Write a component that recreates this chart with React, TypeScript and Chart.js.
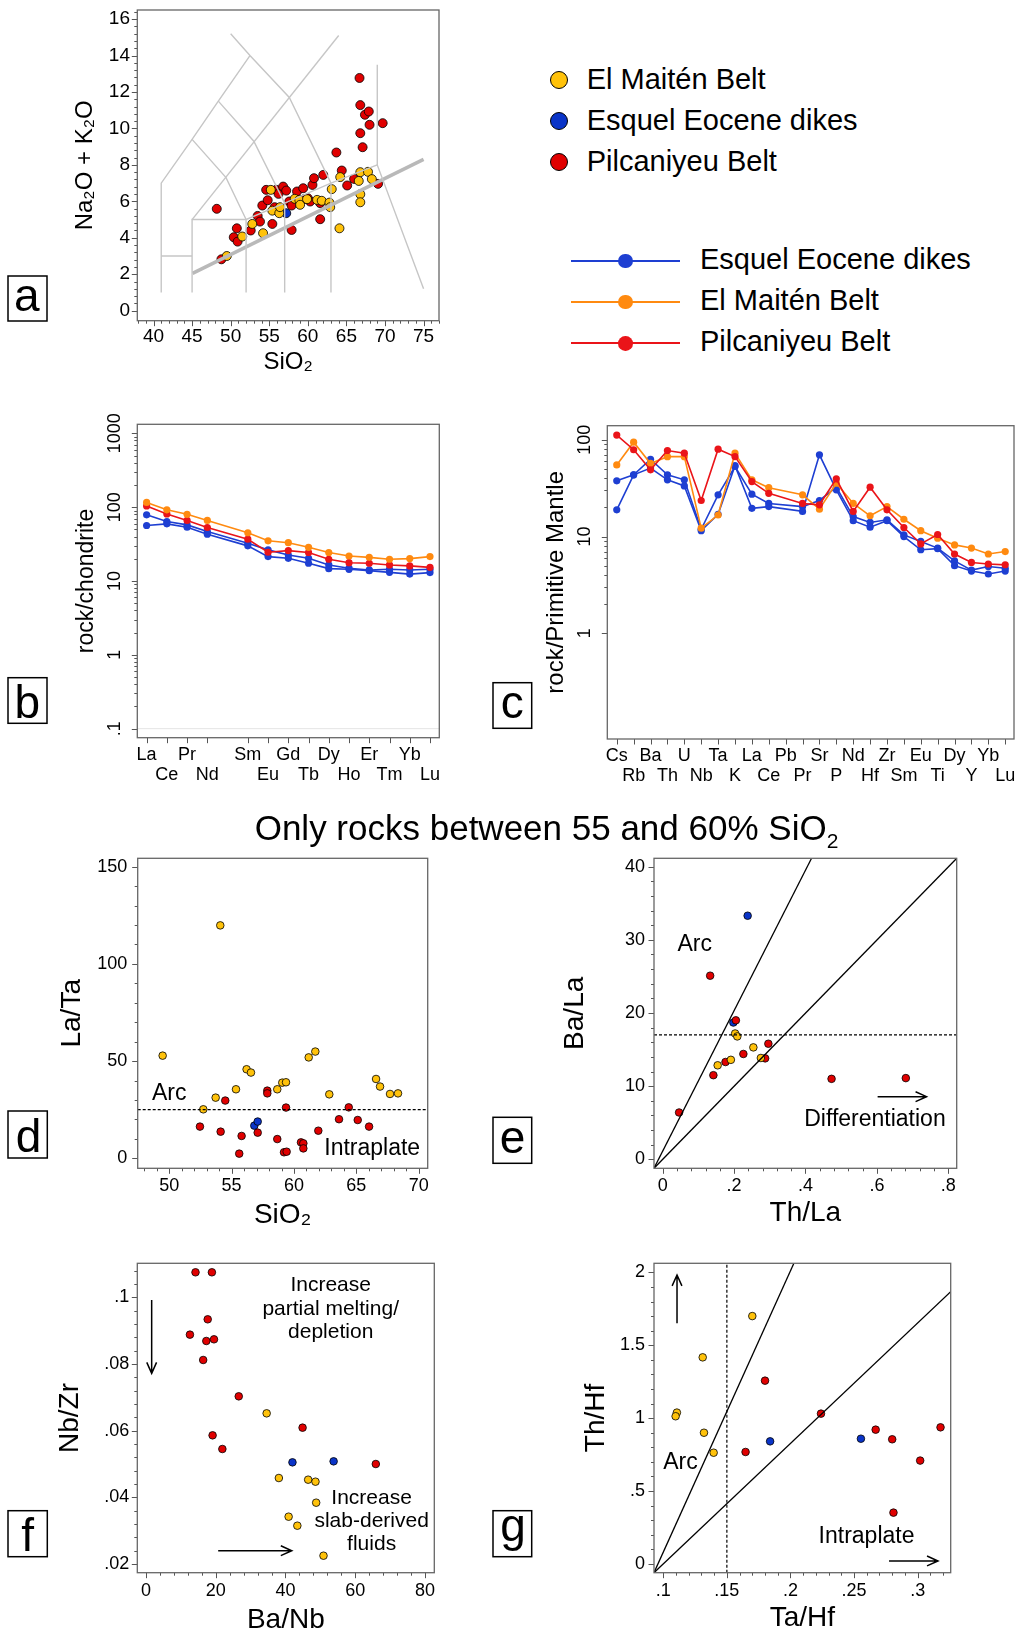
import React, { useEffect, useRef } from 'react';
import { Chart, registerables } from 'chart.js';

Chart.register(...registerables);

const FONT = '"Liberation Sans", Arial, Helvetica, sans-serif';

const C_YEL = '#ffc20a';
const C_RED = '#e00000';
const C_BLUE = '#0a34c8';
const L_BLUE = '#1e3fd2';
const L_ORANGE = '#ff8a10';
const L_RED = '#ea1419';
const TAS_GREY = '#c6c6c6';

// ---------------- Panel a : TAS ----------------
const aRedSi = [48.2, 48.8, 50.4, 50.8, 50.9, 52.6, 53.5, 53.8, 54.1, 54.6, 54.8, 55.4, 55.7, 55.9, 56.2, 56.8, 57.2, 57.6, 57.9, 57.9, 58.6, 59.4, 59.5, 60.0, 60.3, 60.6, 60.8, 61.6, 61.6, 62.0, 63.7, 64.4, 65.1, 66.0, 66.7, 66.8, 66.8, 67.1, 67.4, 67.9, 68.0, 69.1, 69.7];
const aRedAlk = [5.59, 2.82, 4.03, 4.52, 3.79, 4.40, 5.20, 4.89, 5.77, 6.63, 6.06, 4.76, 5.68, 6.63, 6.41, 6.81, 6.59, 5.99, 4.43, 5.77, 6.54, 6.72, 6.12, 6.17, 5.99, 6.90, 7.27, 5.90, 5.02, 7.45, 8.68, 7.69, 6.87, 7.23, 12.77, 11.28, 9.74, 8.97, 10.75, 10.93, 10.20, 6.96, 10.29];
const aYelSi = [49.5, 51.5, 52.8, 54.2, 55.2, 55.4, 56.3, 56.4, 58.3, 58.9, 59.0, 59.9, 61.2, 61.8, 62.8, 62.9, 63.1, 64.1, 64.2, 66.6, 66.8, 66.8, 66.8, 67.8, 68.3];
const aYelAlk = [3.00, 4.07, 4.76, 4.25, 6.63, 5.49, 5.35, 5.68, 6.14, 6.08, 5.81, 6.12, 6.08, 6.03, 5.93, 5.68, 6.67, 4.52, 7.33, 7.12, 7.60, 6.39, 5.95, 7.62, 7.22];
const aBlueSi = [57.2];
const aBlueAlk = [5.35];
const tasLines = [
  [[41, 1], [41, 7], [45, 9.4], [48.4, 11.5], [52.5, 14]],
  [[41, 3], [45, 3]],
  [[45, 1], [45, 5], [52, 5]],
  [[45, 5], [64, 15.1]],
  [[52, 1], [52, 5], [57, 5.9], [63, 7], [69, 8]],
  [[57, 1], [57, 5.9]],
  [[63, 1], [63, 7]],
  [[45, 9.4], [49.4, 7.3], [52, 5]],
  [[48.4, 11.5], [53, 9.3], [57, 5.9]],
  [[50, 15.2], [52.5, 14], [57.6, 11.7], [63, 7]],
  [[69, 13.5], [69, 8], [75, 1.2]],
];
const alkalineDivide = [[45.06, 2.05], [75, 8.3]];
const aXTicks = [40, 45, 50, 55, 60, 65, 70, 75];
const aYTicks = [0, 2, 4, 6, 8, 10, 12, 14, 16];

// ---------------- Panel b : REE ----------------
const reeLabels = ['La', 'Ce', 'Pr', 'Nd', 'Sm', 'Eu', 'Gd', 'Tb', 'Dy', 'Ho', 'Er', 'Tm', 'Yb', 'Lu'];
const reePos = [0, 1, 2, 3, 5, 6, 7, 8, 9, 10, 11, 12, 13, 14];
const reeOrange = [116, 92, 80, 66, 45, 35, 33, 28.6, 24.3, 21.8, 20.9, 19.7, 20.1, 21.4];
const reeRed = [104, 81, 66, 53, 36.8, 24.5, 25.8, 24.3, 19.7, 17.7, 17.4, 16.5, 16.0, 15.3];
const reeBlue1 = [78.7, 63.8, 57.5, 46.7, 32.5, 26.4, 22.5, 20.3, 16.5, 14.9, 14.1, 14.4, 14.1, 14.4];
const reeBlue2 = [56.4, 59.4, 53.5, 43.0, 29.9, 21.4, 20.3, 17.4, 14.7, 14.4, 13.8, 13.1, 12.4, 13.0];
const reeYTicks = [1000, 100, 10, 1, 0.1];
const reeYLabels = ['1000', '100', '10', '1', '.1'];

// ---------------- Panel c : spider ----------------
const spLabels = ['Cs', 'Rb', 'Ba', 'Th', 'U', 'Nb', 'Ta', 'K', 'La', 'Ce', 'Pb', 'Pr', 'Sr', 'P', 'Nd', 'Hf', 'Zr', 'Sm', 'Eu', 'Ti', 'Dy', 'Y', 'Yb', 'Lu'];
const spRed = [112, 79, 49, 77.6, 72.8, 23.6, 80, 67.2, 37, 28, null, 22, 21.3, 39.5, 18.2, 32.4, 18.9, 12.4, 8.4, 10.5, 6.6, 5.4, 5.2, 5.1];
const spOrange = [55, 94.6, 57, 67, 67, 12.2, 16.7, 72.8, 38.6, 32, null, 27, 19.2, 35.6, 22, 16.4, 20.4, 15.1, 11.5, 9.6, 8.2, 7.6, 6.6, 7.0];
const spBlue1 = [37.7, 43.5, 63, 43.5, 38.6, 11.9, 27, 53, 27.4, 22, null, 20.4, 23.6, 32.4, 16.1, 14, 14.9, 10.4, 8.9, 7.6, 5.6, 4.5, 4.9, 4.7];
const spBlue2 = [18.9, 43.5, 51, 38.6, 33.4, 11.5, 17, 54, 19.6, 20.4, null, 18.2, 70, 30.4, 14.6, 12.5, 14.6, 10, 7.3, 7.5, 5, 4.4, 4.1, 4.4];
const spYTicks = [100, 10, 1];
const spYLabels = ['100', '10', '1'];

// ---------------- Panel d : La/Ta vs SiO2 ----------------
const dYelSi = [49.47, 54.09, 52.73, 53.72, 55.35, 56.2, 56.55, 58.66, 59.06, 59.36, 61.18, 61.71, 62.83, 66.58, 66.9, 67.7, 68.34];
const dYelLaTa = [52.8, 119.8, 25.2, 31.2, 35.5, 45.8, 44.1, 35.5, 38.9, 39.1, 51.9, 54.9, 32.9, 40.8, 36.9, 33.1, 33.4];
const dRedSi = [52.46, 54.12, 54.49, 55.61, 55.8, 57.09, 57.86, 57.86, 58.66, 59.36, 59.2, 59.41, 60.56, 60.75, 60.75, 61.95, 63.61, 64.39, 65.11, 66.02];
const dRedLaTa = [16.3, 13.7, 29.7, 2.4, 11.5, 13.2, 34.8, 33.4, 9.9, 26.1, 3.1, 3.4, 8.2, 7.7, 5.1, 14.2, 20.1, 26.2, 19.7, 16.3];
const dBlueSi = [56.82, 57.09];
const dBlueLaTa = [16.8, 18.9];
const dArcLimit = 25;
const dXTicks = [50, 55, 60, 65, 70];
const dYTicks = [0, 50, 100, 150];

// ---------------- Panel e : Ba/La vs Th/La ----------------
const eRedTh = [0.046, 0.133, 0.142, 0.176, 0.205, 0.226, 0.287, 0.296, 0.473, 0.681];
const eRedBa = [6.4, 25.1, 11.5, 13.3, 19.0, 14.4, 13.8, 15.8, 11.0, 11.1];
const eYelTh = [0.154, 0.191, 0.203, 0.209, 0.254, 0.275];
const eYelBa = [12.85, 13.6, 17.2, 16.8, 15.3, 13.85];
const eBlueTh = [0.238, 0.198];
const eBlueBa = [33.3, 18.7];
const eLimit = 17;
const eLine1 = [[-0.0243, -1.23], [0.417, 41.15]];
const eLine2 = [[-0.0243, -1.23], [0.8235, 41.15]];
const eXTicks = [0, 0.2, 0.4, 0.6, 0.8];
const eXLabels = ['0', '.2', '.4', '.6', '.8'];
const eYTicks = [0, 10, 20, 30, 40];

// ---------------- Panel f : Nb/Zr vs Ba/Nb ----------------
const fRedBaNb = [14.2, 18.9, 17.7, 12.6, 17.3, 19.5, 16.4, 26.6, 19.1, 21.9, 44.9, 65.9];
const fRedNbZr = [0.1075, 0.1075, 0.0934, 0.0888, 0.0869, 0.0874, 0.0812, 0.0703, 0.0586, 0.0545, 0.0609, 0.050];
const fYelBaNb = [34.6, 38.1, 46.5, 48.6, 48.8, 40.9, 43.4, 50.9];
const fYelNbZr = [0.0652, 0.0458, 0.0453, 0.0447, 0.0384, 0.0342, 0.0315, 0.0225];
const fBlueBaNb = [42.0, 53.8];
const fBlueNbZr = [0.0505, 0.0508];
const fXTicks = [0, 20, 40, 60, 80];
const fYTicks = [0.02, 0.04, 0.06, 0.08, 0.1];
const fYLabels = ['.02', '.04', '.06', '.08', '.1'];

// ---------------- Panel g : Th/Hf vs Ta/Hf ----------------
const gYelTaHf = [0.170, 0.131, 0.1107, 0.1097, 0.132, 0.1396];
const gYelThHf = [1.70, 1.417, 1.038, 1.013, 0.90, 0.763];
const gRedTaHf = [0.180, 0.224, 0.1647, 0.267, 0.280, 0.318, 0.302, 0.281];
const gRedThHf = [1.257, 1.031, 0.768, 0.921, 0.855, 0.937, 0.709, 0.352];
const gBlueTaHf = [0.184, 0.2554];
const gBlueThHf = [0.841, 0.859];
const gLimit = 0.15;
const gLine1 = [[0.0927, -0.06], [0.2027, 2.062]];
const gLine2 = [[0.0927, -0.06], [0.326, 1.867]];
const gXTicks = [0.1, 0.15, 0.2, 0.25, 0.3];
const gXLabels = ['.1', '.15', '.2', '.25', '.3'];
const gYTicks = [0, 0.5, 1, 1.5, 2];
const gYLabels = ['0', '.5', '1', '1.5', '2'];

// ---------------- legends ----------------
const dotLegend = [
  { label: 'El Maitén Belt', color: C_YEL },
  { label: 'Esquel Eocene dikes', color: C_BLUE },
  { label: 'Pilcaniyeu Belt', color: C_RED },
];
const lineLegend = [
  { label: 'Esquel Eocene dikes', color: L_BLUE },
  { label: 'El Maitén Belt', color: L_ORANGE },
  { label: 'Pilcaniyeu Belt', color: L_RED },
];

// ---------------- helpers ----------------
function range(a: number, b: number, s: number) {
  const out: number[] = [];
  for (let v = a; v <= b + 1e-9; v += s) out.push(Math.round(v * 1e6) / 1e6);
  return out;
}
function logMinors(lo: number, hi: number) {
  const out: number[] = [];
  for (let e = lo; e < hi; e++) for (let k = 2; k <= 9; k++) out.push(k * Math.pow(10, e));
  return out;
}
const pairs = (xs: number[], ys: number[]) => xs.map((x, i) => ({ x, y: ys[i] }));
const poly = (p: number[][]) => p.map(([x, y]) => ({ x, y }));

function pts(xs: number[], ys: number[], color: string, r: number) {
  return {
    data: pairs(xs, ys), backgroundColor: color, borderColor: '#000', borderWidth: 0.8,
    pointRadius: r, pointHoverRadius: r, showLine: false,
  };
}
function seg(p: number[][], color: string, w: number, dash: number[] = []) {
  return {
    data: poly(p), showLine: true, borderColor: color, borderWidth: w, borderDash: dash,
    pointRadius: 0, pointHoverRadius: 0, fill: false, tension: 0,
  };
}
function profile(pos: number[], vals: (number | null)[], color: string) {
  const data = pos.map((x, i) => ({ x, y: vals[i] })).filter((d) => d.y !== null);
  return {
    data, showLine: true, borderColor: color, borderWidth: 1.6, backgroundColor: color,
    pointBackgroundColor: color, pointBorderWidth: 0, pointRadius: 3.6, pointHoverRadius: 3.6, tension: 0,
  };
}

type Cv = { x: number; y: number; w: number; h: number };
type Box = { l: number; t: number; r: number; b: number };
type AxisOpt = {
  type?: string; min: number; max: number; vals?: number[]; labels?: any[];
  font?: number; lh?: number; pad?: number; title?: string; tsize?: number; tpad?: number; show?: boolean;
};

function axis(o: AxisOpt, isX: boolean, size: number) {
  return {
    type: o.type || 'linear',
    min: o.min, max: o.max,
    afterBuildTicks: (s: any) => { if (o.vals) s.ticks = o.vals.map((v) => ({ value: v })); },
    afterFit: (s: any) => {
      if (isX) s.height = size; else s.width = size;
      s.paddingTop = 0; s.paddingBottom = 0; s.paddingLeft = 0; s.paddingRight = 0;
    },
    grid: { display: false, drawTicks: false },
    border: { display: false },
    ticks: {
      display: o.show !== false,
      autoSkip: false, maxRotation: 0, minRotation: 0,
      padding: o.pad ?? 6,
      color: '#000',
      font: { family: FONT, size: o.font ?? 18, lineHeight: o.lh ?? 1.2 },
      callback: (v: any, i: number) => (o.labels ? o.labels[i] : String(v)),
    },
    title: o.title
      ? {
          display: true, text: o.title, color: '#000',
          font: { family: FONT, size: o.tsize ?? 28, lineHeight: 1 },
          padding: isX ? { top: 0, bottom: o.tpad ?? 0 } : { top: o.tpad ?? 0, bottom: 0 },
        }
      : { display: false },
  };
}

type Decor = {
  xMajor: number[]; xMinor: number[]; yMajor: number[]; yMinor: number[];
  logLabels?: { vals: number[]; labels: string[]; cx: number; size: number };
  hline?: { y: number; color: string };
  texts?: { x: number; y: number; text: string; size: number }[];
  arrows?: { x1: number; y1: number; x2: number; y2: number }[];
  letter: { text: string; x: number; y: number; w: number; h: number };
};

function decor(cfg: Decor, cv: Cv) {
  return {
    id: 'decor',
    beforeDatasetsDraw(chart: any) {
      if (!cfg.hline) return;
      const { ctx, chartArea: a, scales } = chart;
      const py = scales.y.getPixelForValue(cfg.hline.y);
      ctx.save();
      ctx.strokeStyle = cfg.hline.color;
      ctx.lineWidth = 1;
      ctx.beginPath();
      ctx.moveTo(a.left, py);
      ctx.lineTo(a.right, py);
      ctx.stroke();
      ctx.restore();
    },
    afterDraw(chart: any) {
      const { ctx, chartArea: a, scales } = chart;
      const sx = scales.x, sy = scales.y;
      const inX = (v: number) => v >= sx.min - 1e-9 && v <= sx.max + 1e-9;
      const inY = (v: number) => v >= sy.min - 1e-12 && v <= sy.max + 1e-9;
      ctx.save();
      ctx.strokeStyle = '#555';
      ctx.lineWidth = 1;
      ctx.beginPath();
      const xt = (v: number, len: number) => {
        const p = Math.round(sx.getPixelForValue(v)) + 0.5;
        ctx.moveTo(p, a.bottom);
        ctx.lineTo(p, a.bottom + len);
      };
      const yt = (v: number, len: number) => {
        const p = Math.round(sy.getPixelForValue(v)) + 0.5;
        ctx.moveTo(a.left - len, p);
        ctx.lineTo(a.left, p);
      };
      cfg.xMinor.filter(inX).forEach((v) => xt(v, 3));
      cfg.xMajor.filter(inX).forEach((v) => xt(v, 5.5));
      cfg.yMinor.filter(inY).forEach((v) => yt(v, 3));
      cfg.yMajor.filter(inY).forEach((v) => yt(v, 5.5));
      ctx.stroke();

      ctx.strokeStyle = '#666';
      ctx.lineWidth = 1.3;
      ctx.strokeRect(a.left, a.top, a.right - a.left, a.bottom - a.top);

      ctx.fillStyle = '#000';
      if (cfg.logLabels) {
        const ll = cfg.logLabels;
        ctx.font = `${ll.size}px ${FONT}`;
        ctx.textAlign = 'center';
        ctx.textBaseline = 'middle';
        ll.vals.forEach((v, i) => {
          const py = sy.getPixelForValue(v);
          ctx.save();
          ctx.translate(ll.cx - cv.x, py);
          ctx.rotate(-Math.PI / 2);
          ctx.fillText(ll.labels[i], 0, 0);
          ctx.restore();
        });
      }

      ctx.textAlign = 'center';
      ctx.textBaseline = 'middle';
      (cfg.texts || []).forEach((t) => {
        ctx.font = `${t.size}px ${FONT}`;
        ctx.fillText(t.text, sx.getPixelForValue(t.x), sy.getPixelForValue(t.y));
      });

      ctx.strokeStyle = '#000';
      ctx.lineWidth = 1.5;
      (cfg.arrows || []).forEach((ar) => {
        const x1 = sx.getPixelForValue(ar.x1), y1 = sy.getPixelForValue(ar.y1);
        const x2 = sx.getPixelForValue(ar.x2), y2 = sy.getPixelForValue(ar.y2);
        const ang = Math.atan2(y2 - y1, x2 - x1);
        const hl = 12, ha = 0.42;
        ctx.beginPath();
        ctx.moveTo(x1, y1);
        ctx.lineTo(x2, y2);
        ctx.moveTo(x2 - hl * Math.cos(ang - ha), y2 - hl * Math.sin(ang - ha));
        ctx.lineTo(x2, y2);
        ctx.lineTo(x2 - hl * Math.cos(ang + ha), y2 - hl * Math.sin(ang + ha));
        ctx.stroke();
      });

      const L = cfg.letter;
      const lx = L.x - cv.x, ly = L.y - cv.y;
      ctx.strokeStyle = '#000';
      ctx.lineWidth = 1.5;
      ctx.strokeRect(lx, ly, L.w, L.h);
      ctx.font = `46px ${FONT}`;
      ctx.textAlign = 'left';
      ctx.textBaseline = 'alphabetic';
      const m = ctx.measureText(L.text);
      const gw = m.actualBoundingBoxLeft + m.actualBoundingBoxRight;
      const gh = m.actualBoundingBoxAscent + m.actualBoundingBoxDescent;
      ctx.fillText(L.text, lx + L.w / 2 - gw / 2 + m.actualBoundingBoxLeft, ly + L.h / 2 - gh / 2 + m.actualBoundingBoxAscent);
      ctx.restore();
    },
  };
}

function makeConfig(cv: Cv, box: Box, x: AxisOpt, y: AxisOpt, datasets: any[], dec: Decor) {
  return {
    type: 'scatter',
    data: { datasets },
    options: {
      animation: false, responsive: false, maintainAspectRatio: false, events: [],
      layout: { padding: { left: 0, top: box.t - cv.y, right: cv.x + cv.w - box.r, bottom: 0 }, autoPadding: false },
      plugins: { legend: { display: false }, tooltip: { enabled: false } },
      scales: { x: axis(x, true, cv.y + cv.h - box.b), y: axis(y, false, box.l - cv.x) },
    },
    plugins: [decor(dec, cv)],
  };
}

const twoRow = (labels: string[]) => labels.map((s, i) => (i % 2 === 0 ? [s] : ['', s]));

// ---------------- panels ----------------
const panels: { id: string; cv: Cv; make: (cv: Cv) => any }[] = [
  {
    id: 'a', cv: { x: 0, y: 0, w: 470, h: 385 },
    make: (cv) => makeConfig(cv, { l: 137.3, t: 10, r: 439, b: 320.7 },
      { min: 37.9, max: 77, vals: aXTicks, font: 19, pad: 5, title: 'SiO₂', tsize: 24, tpad: 11 },
      { min: -0.55, max: 16.5, vals: aYTicks, font: 19, pad: 7.3, title: 'Na₂O + K₂O', tsize: 24, tpad: 73 },
      [
        ...tasLines.map((l) => seg(l, TAS_GREY, 1.4)),
        seg(alkalineDivide, '#b9b9b9', 3.5),
        pts(aYelSi, aYelAlk, C_YEL, 4.5),
        pts(aRedSi, aRedAlk, C_RED, 4.5),
        pts(aBlueSi, aBlueAlk, C_BLUE, 4.5),
      ],
      { xMajor: aXTicks, xMinor: range(38, 77, 1), yMajor: aYTicks, yMinor: range(0, 16.4, 0.4),
        letter: { text: 'a', x: 8, y: 276, w: 39, h: 45 } }),
  },
  {
    id: 'b', cv: { x: 0, y: 400, w: 470, h: 400 },
    make: (cv) => makeConfig(cv, { l: 137.3, t: 424.3, r: 439.3, b: 737.7 },
      { min: -0.46, max: 14.46, vals: reePos, labels: twoRow(reeLabels), font: 18, lh: 1.111, pad: 7.8 },
      { type: 'logarithmic', min: 0.0755, max: 1324, vals: reeYTicks, show: false, title: 'rock/chondrite', tsize: 23, tpad: 75.2 },
      [
        profile(reePos, reeOrange, L_ORANGE),
        profile(reePos, reeRed, L_RED),
        profile(reePos, reeBlue2, L_BLUE),
        profile(reePos, reeBlue1, L_BLUE),
      ],
      { xMajor: reePos, xMinor: [], yMajor: reeYTicks, yMinor: logMinors(-1, 3),
        logLabels: { vals: reeYTicks, labels: reeYLabels, cx: 115.5, size: 18 },
        hline: { y: 0.1, color: '#e4e4e4' },
        letter: { text: 'b', x: 8, y: 677.7, w: 39, h: 45.6 } }),
  },
  {
    id: 'c', cv: { x: 480, y: 400, w: 539, h: 400 },
    make: (cv) => makeConfig(cv, { l: 607.3, t: 425.7, r: 1014, b: 739 },
      { min: -0.56, max: 23.52, vals: spLabels.map((_, i) => i), labels: twoRow(spLabels), font: 18, lh: 1.111, pad: 7.5 },
      { type: 'logarithmic', min: 0.0807, max: 140, vals: spYTicks, show: false, title: 'rock/Primitive Mantle', tsize: 24, tpad: 64 },
      [
        profile(spLabels.map((_, i) => i), spRed, L_RED),
        profile(spLabels.map((_, i) => i), spOrange, L_ORANGE),
        profile(spLabels.map((_, i) => i), spBlue2, L_BLUE),
        profile(spLabels.map((_, i) => i), spBlue1, L_BLUE),
      ],
      { xMajor: spLabels.map((_, i) => i), xMinor: [], yMajor: spYTicks, yMinor: logMinors(0, 2),
        logLabels: { vals: spYTicks, labels: spYLabels, cx: 585, size: 18 },
        letter: { text: 'c', x: 493, y: 682.7, w: 38.7, h: 45.6 } }),
  },
  {
    id: 'd', cv: { x: 0, y: 840, w: 470, h: 400 },
    make: (cv) => makeConfig(cv, { l: 137.7, t: 858.3, r: 427.7, b: 1168.3 },
      { min: 47.47, max: 70.72, vals: dXTicks, pad: 6.5, title: 'SiO₂', tpad: 11 },
      { min: -5.14, max: 154.3, vals: dYTicks, pad: 10.4, title: 'La/Ta', tpad: 58.5 },
      [
        seg([[47.47, dArcLimit], [70.72, dArcLimit]], '#000', 1.2, [3, 2]),
        pts(dYelSi, dYelLaTa, C_YEL, 3.8),
        pts(dRedSi, dRedLaTa, C_RED, 3.8),
        pts(dBlueSi, dBlueLaTa, C_BLUE, 3.8),
      ],
      { xMajor: dXTicks, xMinor: range(48, 70, 1), yMajor: dYTicks, yMinor: range(0, 150, 10),
        texts: [
          { x: 50.0, y: 33.5, text: 'Arc', size: 23 },
          { x: 66.27, y: 5.1, text: 'Intraplate', size: 23 },
        ],
        letter: { text: 'd', x: 8, y: 1111, w: 39.3, h: 47 } }),
  },
  {
    id: 'e', cv: { x: 480, y: 840, w: 539, h: 400 },
    make: (cv) => makeConfig(cv, { l: 654, t: 858.3, r: 956.7, b: 1168.3 },
      { min: -0.0243, max: 0.8235, vals: eXTicks, labels: eXLabels, pad: 6.5, title: 'Th/La', tpad: 13 },
      { min: -1.23, max: 41.15, vals: eYTicks, pad: 9, title: 'Ba/La', tpad: 81 },
      [
        seg([[-0.0243, eLimit], [0.8235, eLimit]], '#000', 1.2, [3, 2]),
        seg(eLine1, '#000', 1.3),
        seg(eLine2, '#000', 1.3),
        pts(eYelTh, eYelBa, C_YEL, 3.8),
        pts(eRedTh, eRedBa, C_RED, 3.8),
        pts(eBlueTh, eBlueBa, C_BLUE, 3.8),
      ],
      { xMajor: eXTicks, xMinor: range(0, 0.8, 0.04), yMajor: eYTicks, yMinor: range(0, 40, 2),
        texts: [
          { x: 0.0899, y: 29.3, text: 'Arc', size: 23 },
          { x: 0.5945, y: 5.4, text: 'Differentiation', size: 23 },
        ],
        arrows: [{ x1: 0.602, y1: 8.56, x2: 0.739, y2: 8.56 }],
        letter: { text: 'e', x: 493, y: 1117.3, w: 38.7, h: 46 } }),
  },
  {
    id: 'f', cv: { x: 0, y: 1240, w: 470, h: 395 },
    make: (cv) => makeConfig(cv, { l: 137.3, t: 1263.3, r: 434.3, b: 1572.7 },
      { min: -2.49, max: 82.67, vals: fXTicks, pad: 7.2, title: 'Ba/Nb', tpad: 1 },
      { min: 0.0174, max: 0.1102, vals: fYTicks, labels: fYLabels, pad: 8, title: 'Nb/Zr', tpad: 56 },
      [
        pts(fYelBaNb, fYelNbZr, C_YEL, 3.8),
        pts(fRedBaNb, fRedNbZr, C_RED, 3.8),
        pts(fBlueBaNb, fBlueNbZr, C_BLUE, 3.8),
      ],
      { xMajor: fXTicks, xMinor: range(0, 80, 4), yMajor: fYTicks, yMinor: range(0.02, 0.108, 0.004),
        texts: [
          { x: 52.96, y: 0.1035, text: 'Increase', size: 21 },
          { x: 52.96, y: 0.0964, text: 'partial melting/', size: 21 },
          { x: 52.96, y: 0.0895, text: 'depletion', size: 21 },
          { x: 64.7, y: 0.0397, text: 'Increase', size: 21 },
          { x: 64.7, y: 0.0328, text: 'slab-derived', size: 21 },
          { x: 64.7, y: 0.026, text: 'fluids', size: 21 },
        ],
        arrows: [
          { x1: 1.63, y1: 0.0992, x2: 1.63, y2: 0.0772 },
          { x1: 20.7, y1: 0.024, x2: 41.8, y2: 0.024 },
        ],
        letter: { text: 'f', x: 8, y: 1510.7, w: 39.3, h: 46 } }),
  },
  {
    id: 'g', cv: { x: 480, y: 1240, w: 539, h: 395 },
    make: (cv) => makeConfig(cv, { l: 654, t: 1263.3, r: 950.7, b: 1572.7 },
      { min: 0.0927, max: 0.326, vals: gXTicks, labels: gXLabels, pad: 7.2, title: 'Ta/Hf', tpad: 3 },
      { min: -0.06, max: 2.062, vals: gYTicks, labels: gYLabels, pad: 9, title: 'Th/Hf', tpad: 102 },
      [
        seg([[gLimit, -0.06], [gLimit, 2.062]], '#000', 1.2, [3, 2]),
        seg(gLine1, '#000', 1.3),
        seg(gLine2, '#000', 1.3),
        pts(gYelTaHf, gYelThHf, C_YEL, 3.8),
        pts(gRedTaHf, gRedThHf, C_RED, 3.8),
        pts(gBlueTaHf, gBlueThHf, C_BLUE, 3.8),
      ],
      { xMajor: gXTicks, xMinor: range(0.1, 0.32, 0.01), yMajor: gYTicks, yMinor: range(0, 2, 0.1),
        texts: [
          { x: 0.1135, y: 0.695, text: 'Arc', size: 23 },
          { x: 0.2598, y: 0.187, text: 'Intraplate', size: 23 },
        ],
        arrows: [
          { x1: 0.1108, y1: 1.651, x2: 0.1108, y2: 1.982 },
          { x1: 0.2775, y1: 0.0206, x2: 0.316, y2: 0.0206 },
        ],
        letter: { text: 'g', x: 493, y: 1510.7, w: 38.7, h: 46 } }),
  },
];

function ChartCanvas({ cv, make }: { cv: Cv; make: (cv: Cv) => any }) {
  const ref = useRef<HTMLCanvasElement>(null);
  useEffect(() => {
    const chart = new Chart(ref.current as HTMLCanvasElement, make(cv) as any);
    return () => chart.destroy();
  }, []);
  return (
    <canvas
      ref={ref}
      width={cv.w}
      height={cv.h}
      style={{ position: 'absolute', left: cv.x, top: cv.y, width: cv.w, height: cv.h }}
    />
  );
}

export default function App() {
  useEffect(() => {
    document.body.style.margin = '0';
  }, []);
  const text29: React.CSSProperties = { position: 'absolute', font: `29px/29px ${FONT}`, color: '#000', whiteSpace: 'nowrap' };
  return (
    <div style={{ position: 'absolute', left: 0, top: 0, width: 1019, height: 1635, background: '#fff', overflow: 'hidden', fontFamily: FONT }}>
      {panels.map((p) => (
        <ChartCanvas key={p.id} cv={p.cv} make={p.make} />
      ))}

      {dotLegend.map((d, i) => (
        <React.Fragment key={'dot' + i}>
          <div style={{ position: 'absolute', left: 559 - 9, top: 79.5 + i * 41 - 9, width: 18, height: 18, boxSizing: 'border-box', borderRadius: '50%', background: d.color, border: '1.5px solid #000' }} />
          <div style={{ ...text29, left: 586.7, top: 79.5 + i * 41 - 14.2 }}>{d.label}</div>
        </React.Fragment>
      ))}

      {lineLegend.map((d, i) => (
        <React.Fragment key={'line' + i}>
          <div style={{ position: 'absolute', left: 570.7, top: 261 + i * 41.2 - 1, width: 109.3, height: 2, background: d.color }} />
          <div style={{ position: 'absolute', left: 625.3 - 7.3, top: 261 + i * 41.2 - 7.3, width: 14.6, height: 14.6, borderRadius: '50%', background: d.color }} />
          <div style={{ ...text29, left: 700, top: 259.5 + i * 41 - 14.2 }}>{d.label}</div>
        </React.Fragment>
      ))}

      <div style={{ position: 'absolute', left: 546.5, top: 810.4, transform: 'translateX(-50%)', whiteSpace: 'nowrap', font: `35px/35px ${FONT}`, color: '#000' }}>
        Only rocks between 55 and 60% SiO<span style={{ fontSize: '60%', position: 'relative', top: '0.35em' }}>2</span>
      </div>
    </div>
  );
}
